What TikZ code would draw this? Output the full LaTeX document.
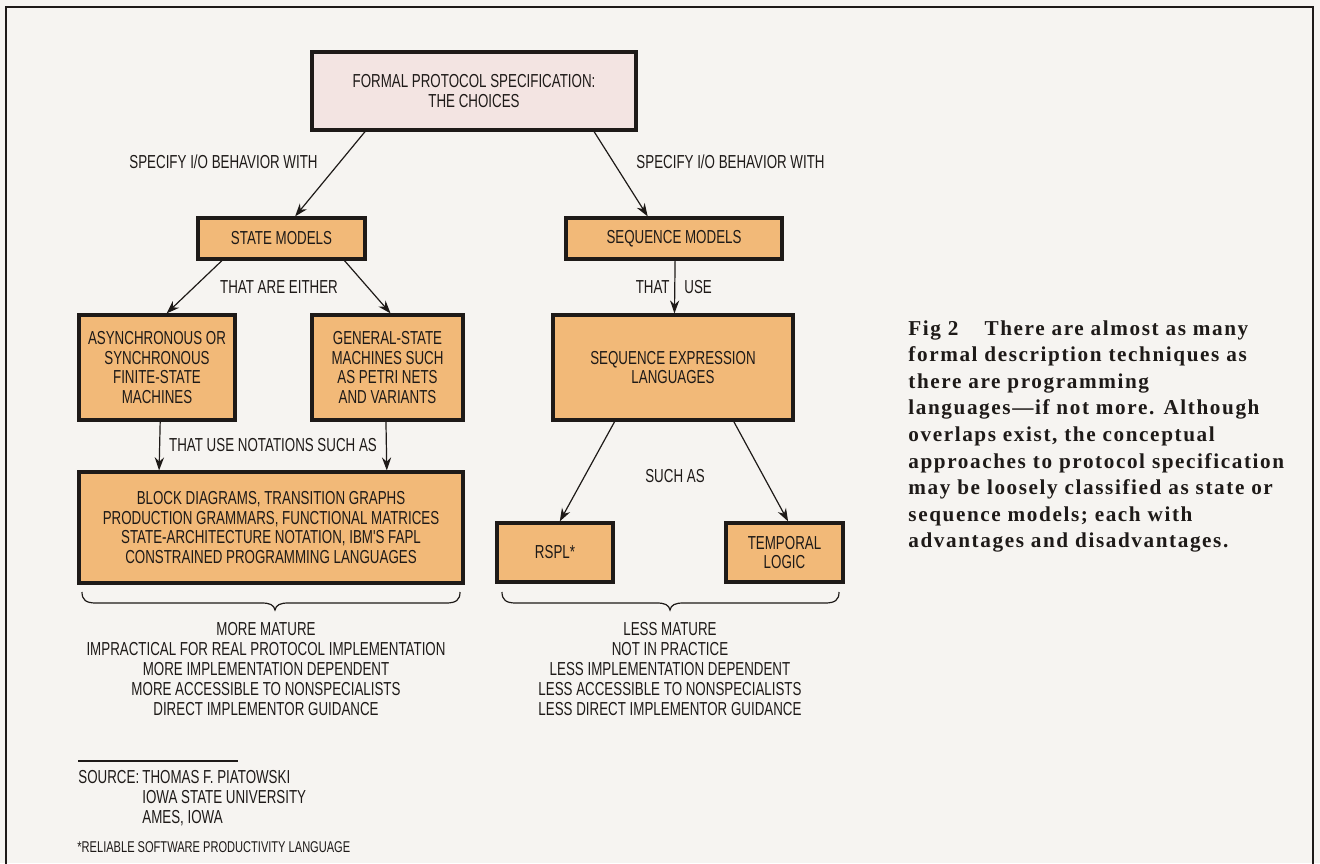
\documentclass[tikz,border=0pt]{standalone}
\usepackage{fontspec}
\usetikzlibrary{arrows.meta,calc}

% condensed sans for the chart, spaced bold serif for the caption
\newfontfamily\condfont[FakeStretch=0.71]{Liberation Sans}
\newfontfamily\capfont[LetterSpace=7.5]{Liberation Serif}

\definecolor{paper}{HTML}{F6F4F1}
\definecolor{boxorange}{HTML}{F2B978}
\definecolor{boxpink}{HTML}{F3E4E2}
\definecolor{ink}{HTML}{1E1A18}

\tikzset{
  lbl/.style={font=\condfont\fontsize{9.4}{10}\selectfont, text=ink, inner sep=0pt, align=center},
  small/.style={font=\condfont\fontsize{7.8}{9}\selectfont, text=ink, inner sep=0pt},
  box/.style={draw=ink, line width=1.6pt, fill=boxorange, align=center, text=ink,
              font=\condfont\fontsize{9.4}{9.8}\selectfont, inner sep=0pt},
  arr/.style={draw=ink, line width=0.6pt, -{Stealth[length=6.5pt,width=4.6pt]}},
  thin/.style={draw=ink, line width=0.6pt},
}

\begin{document}
\begin{tikzpicture}[x=0.5pt, y=-0.5pt]
\useasboundingbox (0,0) rectangle (1320,863);
\fill[paper] (0,0) rectangle (1320,863);

% page frame
\draw[ink, line width=1pt] (6,880) -- (6,7) -- (1313,7) -- (1313,880);

% boxes
\node[box, fill=boxpink, minimum width=162pt, minimum height=39pt] (top) at (474,91)
  {FORMAL PROTOCOL SPECIFICATION:\\THE CHOICES};
\node[box, minimum width=83.5pt, minimum height=20.5pt] (state) at (281.5,238.5) {STATE MODELS};
\node[box, minimum width=108pt, minimum height=20.5pt] (seq) at (674,238.5) {SEQUENCE MODELS};
\node[box, minimum width=78pt, minimum height=52.5pt] (fsm) at (157,367.5)
  {ASYNCHRONOUS OR\\SYNCHRONOUS\\FINITE-STATE\\MACHINES};
\node[box, minimum width=75.5pt, minimum height=52.5pt] (gsm) at (387.5,367.5)
  {GENERAL-STATE\\MACHINES SUCH\\AS PETRI NETS\\AND VARIANTS};
\node[box, minimum width=192pt, minimum height=55.5pt] (notes) at (271,527.5)
  {BLOCK DIAGRAMS, TRANSITION GRAPHS\\PRODUCTION GRAMMARS, FUNCTIONAL MATRICES\\STATE-ARCHITECTURE NOTATION, IBM'S FAPL\\CONSTRAINED PROGRAMMING LANGUAGES};
\node[box, minimum width=120pt, minimum height=52.5pt] (sel) at (673,367.5)
  {SEQUENCE EXPRESSION\\LANGUAGES};
\node[box, minimum width=58pt, minimum height=29.5pt] (rspl) at (555,552.5) {RSPL*};
\node[box, minimum width=58.5pt, minimum height=29.5pt] (tl) at (784.5,552.5) {TEMPORAL\\LOGIC};

% connectors
\draw[arr] ($(top.south west)!0.167!(top.south east)$) -- ($(state.north west)!0.58!(state.north east)$);
\draw[arr] ($(top.south west)!0.867!(top.south east)$) -- ($(seq.north west)!0.38!(seq.north east)$);
\draw[arr] ($(state.south west)!0.15!(state.south east)$) -- ($(fsm.north west)!0.56!(fsm.north east)$);
\draw[arr] ($(state.south west)!0.87!(state.south east)$) -- ($(gsm.north west)!0.52!(gsm.north east)$);
\draw[arr] ($(fsm.south west)!0.52!(fsm.south east)$) -- ($(notes.north west)!0.211!(notes.north east)$);
\draw[arr] ($(gsm.south west)!0.49!(gsm.south east)$) -- ($(notes.north west)!0.799!(notes.north east)$);
\draw[arr] ($(seq.south west)!0.505!(seq.south east)$) -- ($(sel.north west)!0.506!(sel.north east)$);
\draw[arr] ($(sel.south west)!0.26!(sel.south east)$) -- ($(rspl.north west)!0.54!(rspl.north east)$);
\draw[arr] ($(sel.south west)!0.75!(sel.south east)$) -- ($(tl.north west)!0.53!(tl.north east)$);

% connector labels
\node[lbl] (l1) at (223.5,162) {SPECIFY I/O BEHAVIOR WITH};
\node[lbl] (l2) at (730.5,162) {SPECIFY I/O BEHAVIOR WITH};
\node[lbl] (l3) at (279,287) {THAT ARE EITHER};
\node[lbl, anchor=east] (l4a) at (670,287) {THAT};
\node[lbl, anchor=west] (l4b) at (684,287) {USE};
\node[lbl] (l5) at (273,445) {THAT USE NOTATIONS SUCH AS};
\node[lbl] (l6) at (675,476) {SUCH AS};

% braces under the two groups
\draw[thin] (82,592) .. controls (82,600) and (86,603) .. (96,603) -- (262,603)
  .. controls (270,603) and (274,605) .. (275,610)
  .. controls (276,605) and (280,603) .. (288,603) -- (446,603)
  .. controls (456,603) and (460,600) .. (460,592);
\draw[thin] (502,592) .. controls (502,600) and (506,603) .. (516,603) -- (657,603)
  .. controls (665,603) and (669,605) .. (670,610)
  .. controls (671,605) and (675,603) .. (683,603) -- (825,603)
  .. controls (835,603) and (839,600) .. (839,592);

\node[lbl, anchor=north] (stateprops) at (266,622)
  {MORE MATURE\\IMPRACTICAL FOR REAL PROTOCOL IMPLEMENTATION\\MORE IMPLEMENTATION DEPENDENT\\MORE ACCESSIBLE TO NONSPECIALISTS\\DIRECT IMPLEMENTOR GUIDANCE};
\node[lbl, anchor=north] (seqprops) at (670,622)
  {LESS MATURE\\NOT IN PRACTICE\\LESS IMPLEMENTATION DEPENDENT\\LESS ACCESSIBLE TO NONSPECIALISTS\\LESS DIRECT IMPLEMENTOR GUIDANCE};

% source note
\draw[thin] (78,761) -- (238,761);
\node[lbl, anchor=base west] (src0) at (78,783) {SOURCE:};
\node[lbl, anchor=base west] (src1) at (142,783) {THOMAS F. PIATOWSKI};
\node[lbl, anchor=base west] (src2) at (142,803) {IOWA STATE UNIVERSITY};
\node[lbl, anchor=base west] (src3) at (142,823) {AMES, IOWA};
\node[small, anchor=base west] (foot) at (77,852) {*RELIABLE SOFTWARE PRODUCTIVITY LANGUAGE};

% caption
\node[anchor=north west, inner sep=0pt, align=left, text=ink,
      font=\capfont\bfseries\fontsize{10.6}{13.3}\selectfont] (caption) at (908,320)
  {Fig 2\hspace{13pt}There are almost as many\\
   formal description techniques as\\
   there are programming\\
   languages—if not more. Although\\
   overlaps exist, the conceptual\\
   approaches to protocol specification\\
   may be loosely classified as state or\\
   sequence models; each with\\
   advantages and disadvantages.};
\end{tikzpicture}
\end{document}
